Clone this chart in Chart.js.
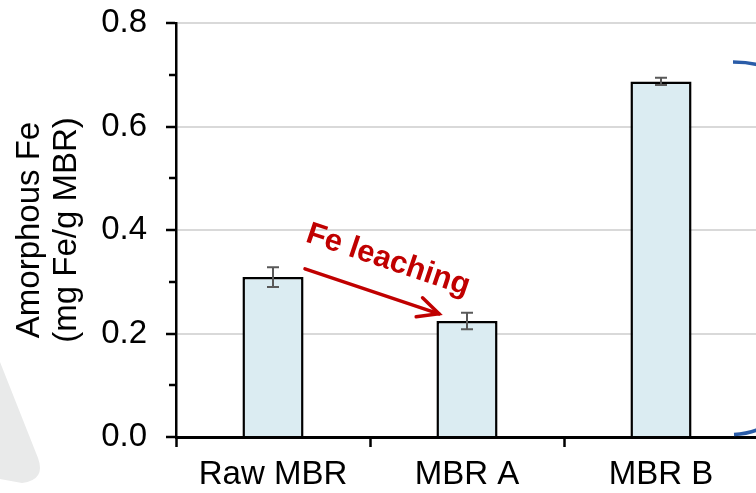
<!DOCTYPE html>
<html>
<head>
<meta charset="utf-8">
<script src="https://cdn.jsdelivr.net/npm/chart.js@4.4.1/dist/chart.umd.min.js"></script>
<style>
  html, body { margin: 0; padding: 0; background: #ffffff; overflow: hidden; }
  #wrap { width: 756px; height: 493px; overflow: hidden; position: relative; }
  #c { display: block; }
</style>
</head>
<body>
<div id="wrap"><canvas id="c" width="758" height="493" style="width:758px;height:493px"></canvas></div>
<script>
// Amorphous Fe content of the raw and treated MBR samples
const categories = ['Raw MBR', 'MBR A', 'MBR B'];
const feValues = [0.309, 0.224, 0.687];     // mg Fe / g MBR
const feErrors = [0.019, 0.016, 0.007];     // standard deviation
const yMajorTicks = [0, 0.2, 0.4, 0.6, 0.8];
const yMinorTicks = [0.1, 0.3, 0.5, 0.7];
const yTitle = ['Amorphous Fe', '(mg Fe/g MBR)'];
const arrowLabel = 'Fe leaching';

const FONT = "'Liberation Sans', Arial, Helvetica, sans-serif";
const isMajor = v => yMajorTicks.some(t => Math.abs(t - v) < 1e-6);

// light grey decoration behind the axis title and blue bracket on the right
const decorations = {
  id: 'decorations',
  beforeDraw(chart) {
    const ctx = chart.ctx;
    ctx.save();
    ctx.fillStyle = '#e9eaea';
    ctx.beginPath();
    ctx.moveTo(0, 362);
    ctx.lineTo(38, 458);
    ctx.quadraticCurveTo(46, 480, 22, 483);
    ctx.lineTo(0, 479);
    ctx.closePath();
    ctx.fill();
    ctx.restore();
  },
  afterDraw(chart) {
    const ctx = chart.ctx;
    ctx.save();
    ctx.strokeStyle = '#2a5ca8';
    ctx.lineWidth = 3.5;
    ctx.lineCap = 'butt';
    ctx.beginPath();
    ctx.moveTo(733, 62);
    ctx.quadraticCurveTo(746, 62, 757, 64.5);
    ctx.stroke();
    ctx.beginPath();
    ctx.moveTo(734, 434.5);
    ctx.quadraticCurveTo(746, 434, 757, 430);
    ctx.stroke();
    ctx.restore();
  }
};

// short minor tick marks on the value axis
const minorTicks = {
  id: 'minorTicks',
  afterDraw(chart) {
    const y = chart.scales.y;
    const ctx = chart.ctx;
    const x0 = chart.chartArea.left;
    ctx.save();
    ctx.strokeStyle = '#000000';
    ctx.lineWidth = 2.5;
    yMinorTicks.forEach(v => {
      const py = Math.round(y.getPixelForValue(v));
      ctx.beginPath();
      ctx.moveTo(x0 - 7, py);
      ctx.lineTo(x0, py);
      ctx.stroke();
    });
    ctx.restore();
  }
};

// error bars on top of each column
const errorBars = {
  id: 'errorBars',
  afterDatasetsDraw(chart) {
    const meta = chart.getDatasetMeta(0);
    const y = chart.scales.y;
    const ctx = chart.ctx;
    ctx.save();
    ctx.strokeStyle = '#595959';
    ctx.lineWidth = 2;
    meta.data.forEach((bar, i) => {
      const x = bar.x;
      const hi = y.getPixelForValue(feValues[i] + feErrors[i]);
      const lo = y.getPixelForValue(feValues[i] - feErrors[i]);
      ctx.beginPath();
      ctx.moveTo(x, hi); ctx.lineTo(x, lo);
      ctx.moveTo(x - 6, hi); ctx.lineTo(x + 6, hi);
      ctx.moveTo(x - 6, lo); ctx.lineTo(x + 6, lo);
      ctx.stroke();
    });
    ctx.restore();
  }
};

// "Fe leaching" arrow from the raw sample towards MBR A
const leachArrow = {
  id: 'leachArrow',
  afterDraw(chart) {
    const meta = chart.getDatasetMeta(0);
    const y = chart.scales.y;
    const ctx = chart.ctx;
    const x1 = meta.data[0].x + 32, y1 = y.getPixelForValue(0.325);
    const x2 = meta.data[1].x - 28, y2 = y.getPixelForValue(0.238);
    const ang = Math.atan2(y2 - y1, x2 - x1);
    ctx.save();
    ctx.strokeStyle = '#c00000';
    ctx.fillStyle = '#c00000';
    ctx.lineWidth = 3.5;
    ctx.lineCap = 'round';
    ctx.lineJoin = 'miter';
    ctx.beginPath();
    ctx.moveTo(x1, y1);
    ctx.lineTo(x2, y2);
    ctx.stroke();
    const hl = 23, ha = 0.45;
    ctx.beginPath();
    ctx.moveTo(x2 - hl * Math.cos(ang - ha), y2 - hl * Math.sin(ang - ha));
    ctx.lineTo(x2, y2);
    ctx.lineTo(x2 - hl * Math.cos(ang + ha), y2 - hl * Math.sin(ang + ha));
    ctx.stroke();
    // label parallel to the arrow
    const mx = (x1 + x2) / 2 + 16, my = (y1 + y2) / 2 - 31;
    ctx.translate(mx, my);
    ctx.rotate(ang);
    ctx.font = 'bold 31px ' + FONT;
    ctx.textAlign = 'center';
    ctx.textBaseline = 'middle';
    ctx.fillText(arrowLabel, 0, 0);
    ctx.restore();
  }
};

new Chart(document.getElementById('c'), {
  type: 'bar',
  data: {
    labels: categories,
    datasets: [{
      data: feValues,
      backgroundColor: '#dbecf2',
      borderColor: '#000000',
      borderWidth: 2.5,
      categoryPercentage: 1,
      barPercentage: 0.315
    }]
  },
  options: {
    responsive: false,
    devicePixelRatio: 1,
    animation: false,
    layout: { padding: { top: 23, left: 0, right: 0, bottom: 0 } },
    plugins: { legend: { display: false }, tooltip: { enabled: false } },
    scales: {
      x: {
        offset: true,
        grid: {
          display: true,
          drawOnChartArea: false,
          drawTicks: true,
          tickLength: 10,
          tickWidth: 2.5,
          tickColor: '#000000',
          offset: true
        },
        border: { display: true, color: '#000000', width: 3 },
        ticks: {
          color: '#000000',
          font: { family: FONT, size: 33 },
          padding: 8,
          maxRotation: 0
        },
        afterFit(scale) {
          scale.height = 56;
          scale.paddingLeft = 0; scale.paddingRight = 0;
        }
      },
      y: {
        min: 0,
        max: 0.8,
        ticks: {
          stepSize: 0.1,
          color: '#000000',
          font: { family: FONT, size: 33 },
          padding: 19,
          callback: v => isMajor(v) ? Number(v).toFixed(1) : ''
        },
        grid: {
          drawTicks: true,
          tickLength: 10,
          tickWidth: 2.5,
          lineWidth: 2,
          color: ctx => (ctx.tick && isMajor(ctx.tick.value) && ctx.tick.value > 0) ? '#d9d9d9' : 'rgba(0,0,0,0)',
          tickColor: ctx => (ctx.tick && isMajor(ctx.tick.value)) ? '#000000' : 'rgba(0,0,0,0)'
        },
        border: { display: true, color: '#000000', width: 2.5 },
        title: {
          display: true,
          text: yTitle,
          color: '#000000',
          font: { family: FONT, size: 33, lineHeight: 1.12 },
          padding: { top: 11, bottom: 0 }
        },
        afterFit(scale) {
          scale.width = 176;
          scale.paddingTop = 0; scale.paddingBottom = 0;
        }
      }
    }
  },
  plugins: [decorations, minorTicks, errorBars, leachArrow]
});
</script>
</body>
</html>
